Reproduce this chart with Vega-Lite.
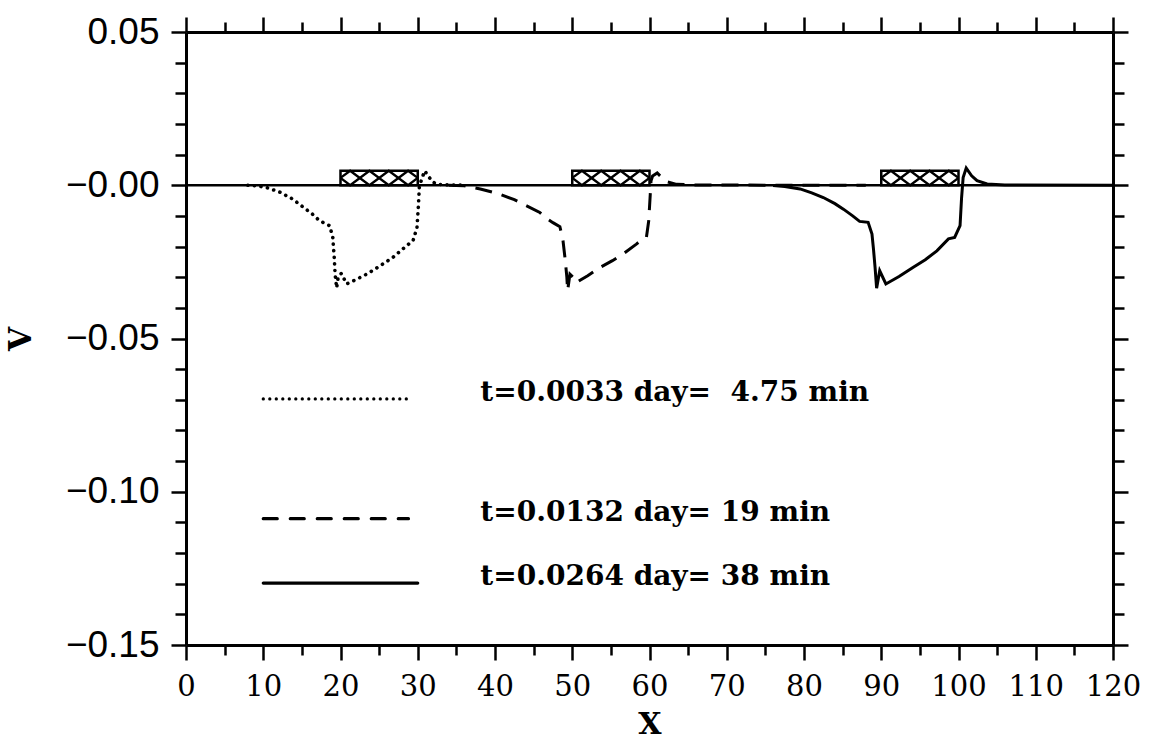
{
  "$schema": "https://vega.github.io/schema/vega-lite/v6.json",
  "width": 927,
  "height": 613,
  "autosize": {"type": "none"},
  "padding": {"left": 186, "top": 32, "right": 38, "bottom": 96},
  "background": "white",
  "config": {"view": {"stroke": null}, "axis": {"grid": false, "domainColor": "black", "tickColor": "black", "labelColor": "black", "titleColor": "black", "domainWidth": 3, "tickWidth": 2.5}},
  "datasets": {
    "curves": [
      {"s": "a", "x": 8, "y": 0}, {"s": "a", "x": 9.2, "y": -0.0002}, {"s": "a", "x": 10.5, "y": -0.0008}, {"s": "a", "x": 12.2, "y": -0.0023}, {"s": "a", "x": 13.8, "y": -0.0045}, {"s": "a", "x": 15.2, "y": -0.0072}, {"s": "a", "x": 16.4, "y": -0.0095}, {"s": "a", "x": 17.3, "y": -0.0116}, {"s": "a", "x": 18.6, "y": -0.0132}, {"s": "a", "x": 19.0, "y": -0.017}, {"s": "a", "x": 19.2, "y": -0.024}, {"s": "a", "x": 19.3, "y": -0.029}, {"s": "a", "x": 19.5, "y": -0.0335}, {"s": "a", "x": 19.7, "y": -0.030}, {"s": "a", "x": 20.1, "y": -0.0288}, {"s": "a", "x": 20.8, "y": -0.0322}, {"s": "a", "x": 22.0, "y": -0.0308}, {"s": "a", "x": 23.4, "y": -0.029}, {"s": "a", "x": 25.0, "y": -0.0265}, {"s": "a", "x": 26.8, "y": -0.0235}, {"s": "a", "x": 28.2, "y": -0.0205}, {"s": "a", "x": 29.4, "y": -0.018}, {"s": "a", "x": 29.9, "y": -0.0138}, {"s": "a", "x": 30.1, "y": -0.006}, {"s": "a", "x": 30.2, "y": -0.0007}, {"s": "a", "x": 30.5, "y": 0.002}, {"s": "a", "x": 30.9, "y": 0.0047}, {"s": "a", "x": 31.5, "y": 0.0025}, {"s": "a", "x": 32, "y": 0.001}, {"s": "a", "x": 32.5, "y": 0.0003}, {"s": "a", "x": 34, "y": 0.0001}, {"s": "a", "x": 36, "y": 0},
      {"s": "b", "x": 34, "y": 0}, {"s": "b", "x": 36, "y": -0.0002}, {"s": "b", "x": 38.1, "y": -0.0012}, {"s": "b", "x": 40.6, "y": -0.0029}, {"s": "b", "x": 42.5, "y": -0.0047}, {"s": "b", "x": 44.1, "y": -0.0067}, {"s": "b", "x": 45.8, "y": -0.0089}, {"s": "b", "x": 46.9, "y": -0.0112}, {"s": "b", "x": 47.5, "y": -0.0122}, {"s": "b", "x": 48.4, "y": -0.0135}, {"s": "b", "x": 48.8, "y": -0.018}, {"s": "b", "x": 49.1, "y": -0.0246}, {"s": "b", "x": 49.3, "y": -0.030}, {"s": "b", "x": 49.4, "y": -0.0344}, {"s": "b", "x": 49.7, "y": -0.029}, {"s": "b", "x": 50.1, "y": -0.030}, {"s": "b", "x": 50.5, "y": -0.0318}, {"s": "b", "x": 52, "y": -0.0295}, {"s": "b", "x": 53.6, "y": -0.0268}, {"s": "b", "x": 55.2, "y": -0.0246}, {"s": "b", "x": 56.6, "y": -0.0224}, {"s": "b", "x": 58.3, "y": -0.0192}, {"s": "b", "x": 59.0, "y": -0.0178}, {"s": "b", "x": 59.6, "y": -0.017}, {"s": "b", "x": 59.9, "y": -0.0116}, {"s": "b", "x": 60.1, "y": -0.0029}, {"s": "b", "x": 60.2, "y": 0.0015}, {"s": "b", "x": 60.4, "y": 0.003}, {"s": "b", "x": 61.0, "y": 0.004}, {"s": "b", "x": 61.6, "y": 0.0025}, {"s": "b", "x": 62.2, "y": 0.0012}, {"s": "b", "x": 63.5, "y": 0.0003}, {"s": "b", "x": 66, "y": 0.0001}, {"s": "b", "x": 78, "y": 0}, {"s": "b", "x": 88, "y": 0},
      {"s": "c", "x": 76, "y": -0.0001}, {"s": "c", "x": 77.5, "y": -0.0004}, {"s": "c", "x": 79.5, "y": -0.0012}, {"s": "c", "x": 81, "y": -0.0025}, {"s": "c", "x": 82.5, "y": -0.004}, {"s": "c", "x": 84, "y": -0.006}, {"s": "c", "x": 85.1, "y": -0.0078}, {"s": "c", "x": 86.3, "y": -0.010}, {"s": "c", "x": 87.2, "y": -0.0118}, {"s": "c", "x": 88.3, "y": -0.0121}, {"s": "c", "x": 88.8, "y": -0.0159}, {"s": "c", "x": 89.0, "y": -0.021}, {"s": "c", "x": 89.2, "y": -0.0268}, {"s": "c", "x": 89.4, "y": -0.0336}, {"s": "c", "x": 89.8, "y": -0.0279}, {"s": "c", "x": 90.6, "y": -0.0322}, {"s": "c", "x": 92.3, "y": -0.0298}, {"s": "c", "x": 94.1, "y": -0.0268}, {"s": "c", "x": 95.7, "y": -0.0243}, {"s": "c", "x": 97.2, "y": -0.0214}, {"s": "c", "x": 98.7, "y": -0.0175}, {"s": "c", "x": 99.5, "y": -0.017}, {"s": "c", "x": 100.2, "y": -0.0132}, {"s": "c", "x": 100.4, "y": -0.004}, {"s": "c", "x": 100.6, "y": 0.0025}, {"s": "c", "x": 101.0, "y": 0.0056}, {"s": "c", "x": 101.7, "y": 0.0031}, {"s": "c", "x": 102.4, "y": 0.0015}, {"s": "c", "x": 103.7, "y": 0.0004}, {"s": "c", "x": 106, "y": 0.0001}, {"s": "c", "x": 120, "y": 0}
    ],
    "zero": [{"x1": 0, "x2": 120, "y": 0}],
    "boxes": [
      {"b": 1, "x1": 20, "x2": 30, "top": 0.0047, "bot": 0},
      {"b": 2, "x1": 50, "x2": 60, "top": 0.0047, "bot": 0},
      {"b": 3, "x1": 90, "x2": 100, "top": 0.0047, "bot": 0}
    ],
    "hatch": [
      {"k": "1A", "x": 20, "y": 0.0024}, {"k": "1A", "x": 21.25, "y": 0.0047}, {"k": "1A", "x": 23.75, "y": 0}, {"k": "1A", "x": 26.25, "y": 0.0047}, {"k": "1A", "x": 28.75, "y": 0}, {"k": "1A", "x": 30, "y": 0.0024},
      {"k": "1B", "x": 20, "y": 0.0024}, {"k": "1B", "x": 21.25, "y": 0}, {"k": "1B", "x": 23.75, "y": 0.0047}, {"k": "1B", "x": 26.25, "y": 0}, {"k": "1B", "x": 28.75, "y": 0.0047}, {"k": "1B", "x": 30, "y": 0.0024},
      {"k": "2A", "x": 50, "y": 0.0024}, {"k": "2A", "x": 51.25, "y": 0.0047}, {"k": "2A", "x": 53.75, "y": 0}, {"k": "2A", "x": 56.25, "y": 0.0047}, {"k": "2A", "x": 58.75, "y": 0}, {"k": "2A", "x": 60, "y": 0.0024},
      {"k": "2B", "x": 50, "y": 0.0024}, {"k": "2B", "x": 51.25, "y": 0}, {"k": "2B", "x": 53.75, "y": 0.0047}, {"k": "2B", "x": 56.25, "y": 0}, {"k": "2B", "x": 58.75, "y": 0.0047}, {"k": "2B", "x": 60, "y": 0.0024},
      {"k": "3A", "x": 90, "y": 0.0024}, {"k": "3A", "x": 91.25, "y": 0.0047}, {"k": "3A", "x": 93.75, "y": 0}, {"k": "3A", "x": 96.25, "y": 0.0047}, {"k": "3A", "x": 98.75, "y": 0}, {"k": "3A", "x": 100, "y": 0.0024},
      {"k": "3B", "x": 90, "y": 0.0024}, {"k": "3B", "x": 91.25, "y": 0}, {"k": "3B", "x": 93.75, "y": 0.0047}, {"k": "3B", "x": 96.25, "y": 0}, {"k": "3B", "x": 98.75, "y": 0.0047}, {"k": "3B", "x": 100, "y": 0.0024}
    ],
    "legend": [
      {"s": "a", "label": "t=0.0033 day=\u00a0 4.75 min", "xs": 10, "xe": 29.3, "tx": 38.1, "y": -0.0697},
      {"s": "b", "label": "t=0.0132 day= 19 min", "xs": 10, "xe": 28.8, "tx": 38.1, "y": -0.1088},
      {"s": "c", "label": "t=0.0264 day= 38 min", "xs": 10, "xe": 30, "tx": 38.1, "y": -0.1298}
    ]
  },
  "resolve": {"axis": {"x": "independent", "y": "independent"}},
  "layer": [
    {
      "data": {"name": "zero"},
      "mark": {"type": "rule", "stroke": "black", "strokeWidth": 2.5},
      "encoding": {
        "x": {"field": "x1", "type": "quantitative", "scale": {"domain": [0, 120], "nice": false, "zero": false}, "axis": null},
        "x2": {"field": "x2"},
        "y": {"field": "y", "type": "quantitative", "scale": {"domain": [-0.15, 0.05], "nice": false, "zero": false}, "axis": null}
      }
    },
    {
      "data": {"name": "curves"},
      "transform": [{"filter": "datum.s == 'a'"}],
      "mark": {"type": "line", "stroke": "black", "strokeWidth": 3.6, "strokeCap": "round", "strokeDash": [0.1, 6.5]},
      "encoding": {
        "x": {"field": "x", "type": "quantitative", "scale": {"domain": [0, 120], "nice": false, "zero": false},
          "axis": {"orient": "bottom", "values": [0, 10, 20, 30, 40, 50, 60, 70, 80, 90, 100, 110, 120], "tickSize": 15, "domainWidth": 3, "tickWidth": 2.5, "labelFont": "DejaVu Serif", "labelFontSize": 29, "labelPadding": 12, "labelFlush": false, "labelOverlap": false, "title": "X", "titleFont": "DejaVu Serif", "titleFontSize": 30, "titleFontWeight": "bold", "titlePadding": 8}},
        "y": {"field": "y", "type": "quantitative", "scale": {"domain": [-0.15, 0.05], "nice": false, "zero": false},
          "axis": {"orient": "left", "values": [0.05, 0, -0.05, -0.1, -0.15], "tickSize": 15, "domainWidth": 3, "tickWidth": 2.5, "labelFont": "Liberation Sans", "labelFontSize": 37, "labelPadding": 12, "labelFlush": false, "labelOverlap": false, "labelExpr": "datum.value > 0.001 ? format(datum.value, '.2f') : '\u2212' + format(abs(datum.value), '.2f')", "title": "V", "titleFont": "DejaVu Serif", "titleFontSize": 31, "titleFontWeight": "bold", "titlePadding": 28}}
      }
    },
    {
      "data": {"name": "curves"},
      "transform": [{"filter": "datum.s == 'b'"}],
      "mark": {"type": "line", "stroke": "black", "strokeWidth": 3, "strokeDash": [17, 10]},
      "encoding": {
        "x": {"field": "x", "type": "quantitative", "scale": {"domain": [0, 120], "nice": false, "zero": false},
          "axis": {"orient": "bottom", "values": [5, 15, 25, 35, 45, 55, 65, 75, 85, 95, 105, 115], "tickSize": 10, "tickWidth": 2.5, "labels": false, "domain": false, "title": null}},
        "y": {"field": "y", "type": "quantitative", "scale": {"domain": [-0.15, 0.05], "nice": false, "zero": false},
          "axis": {"orient": "left", "values": [0.04, 0.03, 0.02, 0.01, -0.01, -0.02, -0.03, -0.04, -0.06, -0.07, -0.08, -0.09, -0.11, -0.12, -0.13, -0.14], "tickSize": 11, "tickWidth": 2.5, "labels": false, "domain": false, "title": null}}
      }
    },
    {
      "data": {"name": "curves"},
      "transform": [{"filter": "datum.s == 'c'"}],
      "mark": {"type": "line", "stroke": "black", "strokeWidth": 3},
      "encoding": {
        "x": {"field": "x", "type": "quantitative", "scale": {"domain": [0, 120], "nice": false, "zero": false},
          "axis": {"orient": "top", "values": [0, 10, 20, 30, 40, 50, 60, 70, 80, 90, 100, 110, 120], "tickSize": 15, "domainWidth": 3, "tickWidth": 2.5, "labels": false, "title": null}},
        "y": {"field": "y", "type": "quantitative", "scale": {"domain": [-0.15, 0.05], "nice": false, "zero": false},
          "axis": {"orient": "right", "values": [0.05, 0, -0.05, -0.1, -0.15], "tickSize": 15, "domainWidth": 3, "tickWidth": 2.5, "labels": false, "title": null}}
      }
    },
    {
      "data": {"name": "legend"},
      "mark": {"type": "rule", "stroke": "black", "strokeWidth": 3.2, "strokeCap": "round"},
      "encoding": {
        "x": {"field": "xs", "type": "quantitative", "scale": {"domain": [0, 120], "nice": false, "zero": false},
          "axis": {"orient": "top", "values": [5, 15, 25, 35, 45, 55, 65, 75, 85, 95, 105, 115], "tickSize": 10, "tickWidth": 2.5, "labels": false, "domain": false, "title": null}},
        "x2": {"field": "xe"},
        "y": {"field": "y", "type": "quantitative", "scale": {"domain": [-0.15, 0.05], "nice": false, "zero": false},
          "axis": {"orient": "right", "values": [0.04, 0.03, 0.02, 0.01, -0.01, -0.02, -0.03, -0.04, -0.06, -0.07, -0.08, -0.09, -0.11, -0.12, -0.13, -0.14], "tickSize": 11, "tickWidth": 2.5, "labels": false, "domain": false, "title": null}},
        "strokeDash": {"field": "s", "type": "nominal", "scale": {"domain": ["a", "b", "c"], "range": [[0.1, 6.4], [14, 13], [1, 0]]}, "legend": null}
      }
    },
    {
      "data": {"name": "legend"},
      "mark": {"type": "text", "align": "left", "baseline": "middle", "dy": -6, "font": "DejaVu Serif", "fontSize": 28, "fontWeight": "bold", "fill": "black"},
      "encoding": {
        "x": {"field": "tx", "type": "quantitative", "axis": null},
        "y": {"field": "y", "type": "quantitative", "axis": null},
        "text": {"field": "label"}
      }
    },
    {
      "data": {"name": "boxes"},
      "mark": {"type": "rect", "fillOpacity": 0, "stroke": "black", "strokeWidth": 2.5},
      "encoding": {
        "x": {"field": "x1", "type": "quantitative", "axis": null},
        "x2": {"field": "x2"},
        "y": {"field": "top", "type": "quantitative", "axis": null},
        "y2": {"field": "bot"}
      }
    },
    {
      "data": {"name": "hatch"},
      "mark": {"type": "line", "stroke": "black", "strokeWidth": 2.4},
      "encoding": {
        "x": {"field": "x", "type": "quantitative", "axis": null},
        "y": {"field": "y", "type": "quantitative", "axis": null},
        "detail": {"field": "k"}
      }
    }
  ]
}
